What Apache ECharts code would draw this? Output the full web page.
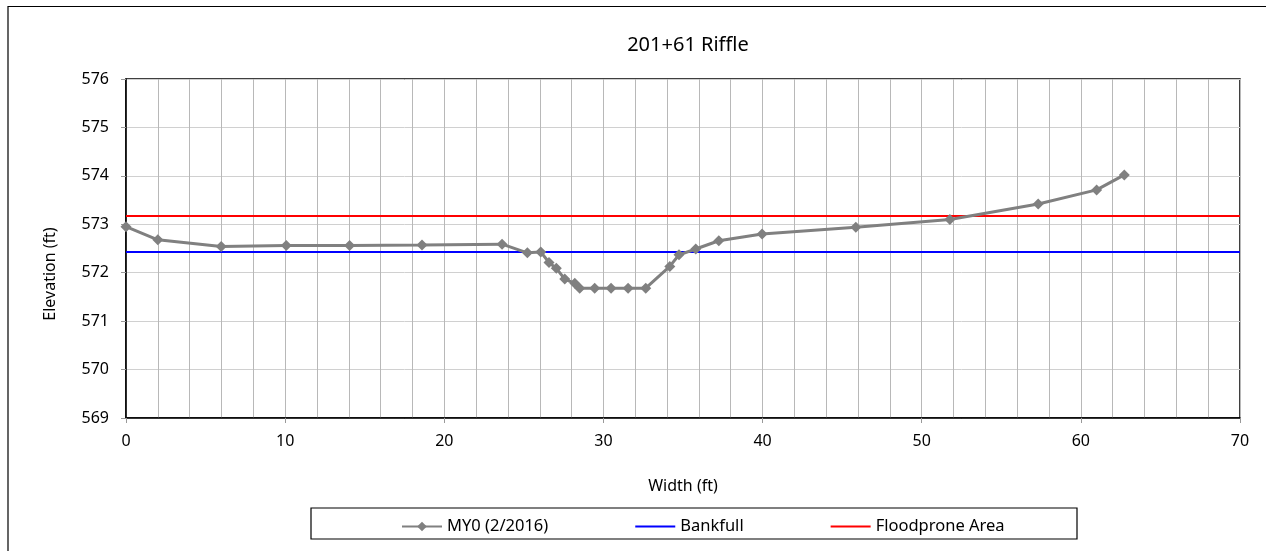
<!DOCTYPE html>
<html><head><meta charset="utf-8">
<script src="https://cdn.jsdelivr.net/npm/echarts@6/dist/echarts.min.js"></script>
<style>html,body{margin:0;padding:0;background:#fff}#c{width:1266px;height:551px}</style>
</head><body><div id="c"></div>
<script>
const titleText = '201+61 Riffle';
const xTicks = [0,10,20,30,40,50,60,70];
const yTicks = [569,570,571,572,573,574,575,576];
const stationX = [0,2.0,5.98,10.07,14.05,18.6,23.63,25.22,26.06,26.58,27.04,27.57,28.2,28.51,29.45,30.48,31.55,32.66,34.17,34.75,35.8,37.25,39.97,45.86,51.77,57.32,60.99,62.73];
const elevY = [572.95,572.68,572.54,572.56,572.56,572.57,572.59,572.41,572.43,572.21,572.09,571.87,571.78,571.68,571.68,571.68,571.68,571.68,572.13,572.37,572.49,572.66,572.8,572.94,573.10,573.42,573.71,574.02];
const bankfullElev = 572.43;
const floodproneElev = 573.17;
const names = ['MY0 (2/2016)','Bankfull','Floodprone Area'];
const xName = 'Width (ft)';
const yName = 'Elevation (ft)';

const font = 'Noto Sans';
const chart = echarts.init(document.getElementById('c'));
chart.setOption({
  animation:false,
  textStyle:{fontFamily:font},
  title:{text:titleText,left:683,textAlign:'center',top:30,textStyle:{fontFamily:font,fontSize:20,fontWeight:'normal',color:'#000'}},
  graphic:[
    {type:'polyline',shape:{points:[[8,551],[8,6.5],[1266,6.5]]},style:{stroke:'#000',lineWidth:1.2,fill:null}},
    {type:'rect',shape:{x:311,y:508,width:766,height:31},style:{fill:'none',stroke:'#000',lineWidth:1.2},z:-1},
    {type:'text',x:50,y:274,rotation:Math.PI/2,style:{text:yName,font:'16px "Noto Sans"',fill:'#000',align:'center',verticalAlign:'middle'}}
  ],
  legend:{top:513,left:396,itemGap:86,itemWidth:40,itemHeight:12,
    textStyle:{fontFamily:font,fontSize:16.5,color:'#000'},
    data:[{name:names[0]},{name:names[1],itemStyle:{opacity:0}},{name:names[2],itemStyle:{opacity:0}}]},
  grid:{left:126,right:26,top:79,bottom:133,show:true,borderColor:'#000',borderWidth:1.5},
  xAxis:{type:'value',min:0,max:70,interval:10,name:xName,nameLocation:'middle',nameGap:60,
    nameTextStyle:{fontFamily:font,fontSize:16,color:'#000'},
    axisLine:{show:true,onZero:false,lineStyle:{color:'#000',width:1.5}},
    axisTick:{show:true,length:5,lineStyle:{color:'#999'}},
    axisLabel:{fontFamily:font,fontSize:16,color:'#000',margin:15},
    splitLine:{show:true,lineStyle:{color:'#b8b8b8',width:1}},
    minorTick:{show:false,splitNumber:5},
    minorSplitLine:{show:true,lineStyle:{color:'#b8b8b8',width:1}}},
  yAxis:{type:'value',min:569,max:576,interval:1,
    axisLine:{show:true,lineStyle:{color:'#000',width:1.5}},
    axisTick:{show:true,length:5,lineStyle:{color:'#999'}},
    axisLabel:{fontFamily:font,fontSize:16,color:'#000',margin:17},
    splitLine:{show:true,lineStyle:{color:'#d0d0d0',width:1}}},
  series:[
    {name:names[0],type:'line',data:stationX.map((x,i)=>[x,elevY[i]]),symbol:'diamond',symbolSize:11,
     lineStyle:{color:'#808080',width:3},itemStyle:{color:'#808080'},z:5},
    {name:names[1],type:'line',data:[[0,bankfullElev],[70,bankfullElev]],symbol:'none',
     lineStyle:{color:'#0000ff',width:2},itemStyle:{color:'#0000ff'}},
    {name:names[2],type:'line',data:[[0,floodproneElev],[70,floodproneElev]],symbol:'none',
     lineStyle:{color:'#ff0000',width:2},itemStyle:{color:'#ff0000'}}
  ]
});
</script></body></html>
